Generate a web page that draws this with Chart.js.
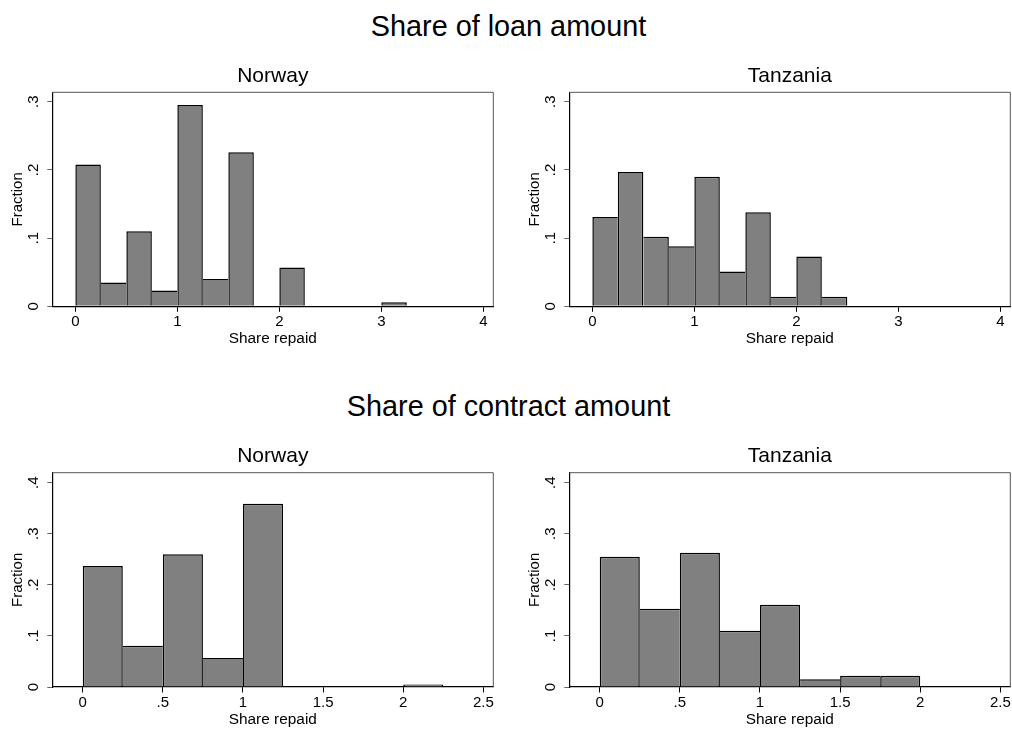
<!DOCTYPE html>
<html>
<head>
<meta charset="utf-8">
<title>Share repaid</title>
<script src="https://cdn.jsdelivr.net/npm/chart.js@4"></script>
<style>
  html, body { margin: 0; padding: 0; background: #fff; overflow: hidden; }
  body { width: 1012px; height: 729px; position: relative;
         font-family: "Liberation Sans", Arial, Helvetica, sans-serif; }
  .section { position: absolute; left: 0; width: 1017px; text-align: center;
             font-size: 28.8px; line-height: 28.8px; color: #000; white-space: nowrap; }
  canvas { position: absolute; }
</style>
</head>
<body>
<div class="section" style="top:12.3px">Share of loan amount</div>
<div class="section" style="top:392.3px">Share of contract amount</div>
<canvas id="loanNorway" width="546" height="300" style="left:0px;top:50px"></canvas>
<canvas id="loanTanzania" width="546" height="300" style="left:517px;top:50px"></canvas>
<canvas id="contractNorway" width="546" height="299" style="left:0px;top:430px"></canvas>
<canvas id="contractTanzania" width="546" height="299" style="left:517px;top:430px"></canvas>
<script>
// Histogram bins all start at 0 and are 0.25 wide
const BIN_WIDTH = 0.25;

// Fraction of observations per bin: share of loan amount repaid
const loanNorwayFractions   = [0.208, 0.035, 0.110, 0.023, 0.295, 0.040, 0.226, 0, 0.057, 0, 0, 0, 0.006];
const loanTanzaniaFractions = [0.131, 0.197, 0.102, 0.088, 0.190, 0.051, 0.138, 0.014, 0.073, 0.014];

// Fraction of observations per bin: share of contract amount repaid
const contractNorwayFractions   = [0.237, 0.081, 0.260, 0.057, 0.359, 0, 0, 0, 0.005];
const contractTanzaniaFractions = [0.255, 0.153, 0.263, 0.110, 0.161, 0.015, 0.022, 0.022];

// Axis ticks
const loanTicksX = [0, 1, 2, 3, 4];
const loanTicksY = [0, 0.1, 0.2, 0.3];
const contractTicksX = [0, 0.5, 1, 1.5, 2, 2.5];
const contractTicksY = [0, 0.1, 0.2, 0.3, 0.4];

// Axis extents
const loanRangeX = [-0.226, 4.098];
const loanMaxY = 0.3138;
const contractRangeX = [-0.19, 2.562];
const contractMaxY = 0.4196;

const FONT = '"Liberation Sans", Arial, Helvetica, sans-serif';
Chart.defaults.font.family = FONT;
Chart.defaults.color = '#000';

// Stata-style short decimals: .1, .5, 1.5
function fmt(v) {
  const s = String(Math.round(v * 1000) / 1000);
  return s.startsWith('0.') ? s.slice(1) : s;
}

// Outer frame of the plot region (top and right edges)
const frame = {
  id: 'frame',
  afterDatasetsDraw(chart) {
    const a = chart.chartArea, ctx = chart.ctx;
    ctx.save();
    ctx.strokeStyle = '#555';
    ctx.lineWidth = 1;
    ctx.beginPath();
    ctx.moveTo(a.left, a.top);
    ctx.lineTo(a.right, a.top);
    ctx.lineTo(a.right, a.bottom);
    ctx.stroke();
    ctx.restore();
  }
};

// Shared edges between neighbouring bins are outlined once, by the taller bar
const EDGE = 1.5;
function barBorder(ctx) {
  const d = ctx.dataset.data, i = ctx.dataIndex;
  const y = d[i].y;
  const prev = d[i - 1], next = d[i + 1];
  return {
    top: EDGE,
    bottom: 0,
    left: (!prev || prev.y <= y) ? EDGE : 0,
    right: (!next || next.y < y) ? EDGE : 0
  };
}

function histogram(id, title, fractions, ticksX, ticksY, rangeX, maxY, titleTop, bottomPad) {
  const points = fractions.map((f, i) => ({ x: (i + 0.5) * BIN_WIDTH, y: f }));
  return new Chart(document.getElementById(id), {
    type: 'bar',
    data: {
      datasets: [{
        data: points,
        backgroundColor: '#808080',
        borderColor: '#000',
        borderWidth: barBorder,
        borderSkipped: 'start',
        inflateAmount: 0,
        barPercentage: 1,
        categoryPercentage: 1
      }]
    },
    options: {
      responsive: false,
      animation: false,
      events: [],
      layout: { padding: { left: 0, right: 52.7, top: 0, bottom: bottomPad } },
      plugins: {
        legend: { display: false },
        tooltip: { enabled: false },
        title: {
          display: true,
          fullSize: false,
          text: title,
          color: '#000',
          font: { size: 21, weight: 'normal' },
          padding: { top: titleTop, bottom: 3.7 }
        }
      },
      scales: {
        x: {
          type: 'linear',
          min: rangeX[0],
          max: rangeX[1],
          offset: false,
          afterBuildTicks: s => { s.ticks = ticksX.map(v => ({ value: v })); },
          afterFit: s => { s.height = 41.6; },
          ticks: {
            includeBounds: false,
            callback: v => fmt(v),
            font: { size: 15 },
            padding: 1.5,
            maxRotation: 0,
            minRotation: 0
          },
          grid: {
            display: true,
            offset: false,
            drawOnChartArea: false,
            drawTicks: true,
            tickLength: 5.5,
            color: '#000',
            lineWidth: 1
          },
          border: { display: true, color: '#000', width: 1.2 },
          title: {
            display: true,
            text: 'Share repaid',
            font: { size: 15.4 },
            padding: 0
          }
        },
        y: {
          type: 'linear',
          min: 0,
          max: maxY,
          afterBuildTicks: s => { s.ticks = ticksY.map(v => ({ value: v })); },
          afterFit: s => { s.width = 52.3; },
          ticks: {
            includeBounds: false,
            callback: v => fmt(v),
            font: { size: 15 },
            padding: 7,
            minRotation: 90,
            crossAlign: 'center'
          },
          grid: {
            display: true,
            drawOnChartArea: false,
            drawTicks: true,
            tickLength: 5,
            color: '#666',
            lineWidth: 1
          },
          border: { display: true, color: '#000', width: 1.2 },
          title: {
            display: true,
            text: 'Fraction',
            font: { size: 15 },
            padding: { top: 8.8, bottom: 0 }
          }
        }
      }
    },
    plugins: [frame]
  });
}

histogram('loanNorway', 'Norway', loanNorwayFractions, loanTicksX, loanTicksY, loanRangeX, loanMaxY, 13.4, 2.1);
histogram('loanTanzania', 'Tanzania', loanTanzaniaFractions, loanTicksX, loanTicksY, loanRangeX, loanMaxY, 13.4, 2.1);
histogram('contractNorway', 'Norway', contractNorwayFractions, contractTicksX, contractTicksY, contractRangeX, contractMaxY, 13.8, 0.4);
histogram('contractTanzania', 'Tanzania', contractTanzaniaFractions, contractTicksX, contractTicksY, contractRangeX, contractMaxY, 13.8, 0.4);
</script>
</body>
</html>
